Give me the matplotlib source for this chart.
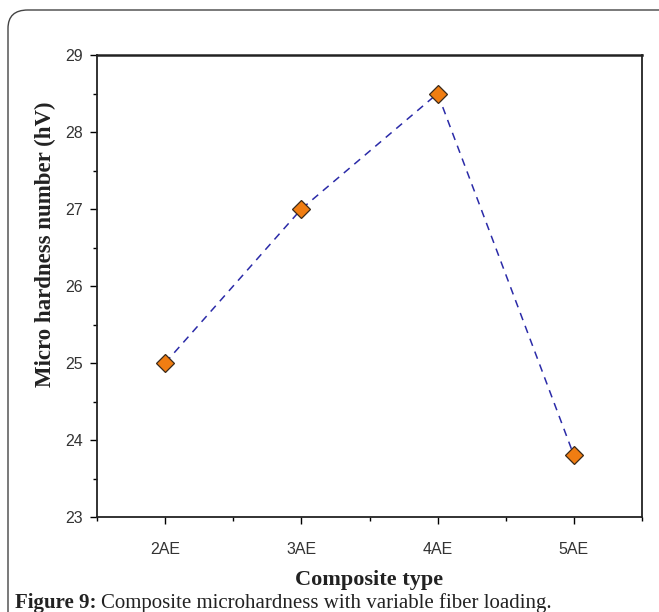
import matplotlib
matplotlib.use("Agg")
import matplotlib.pyplot as plt
from matplotlib.patches import FancyBboxPatch
from matplotlib.ticker import MultipleLocator, FixedLocator

categories = ["2AE", "3AE", "4AE", "5AE"]
hardness = [25.0, 27.0, 28.5, 23.8]
y_ticks = [23, 24, 25, 26, 27, 28, 29]

fig = plt.figure(figsize=(6.59, 6.12), dpi=100)

# rounded frame around the figure
box = FancyBboxPatch((8 / 659, -0.05), 1.2, 1.05 - 10 / 612,
                     boxstyle="round,pad=0,rounding_size=0.03",
                     transform=fig.transFigure, fill=False,
                     edgecolor="#444444", linewidth=1.0)
fig.patches.append(box)

ax = fig.add_axes([97 / 659, 1 - 517 / 612, (642 - 97) / 659, (517 - 55) / 612])
x = list(range(len(categories)))
ax.plot(x, hardness, linestyle=(0, (5, 4)), color="#2B2BA8", linewidth=1.1,
        marker="D", markersize=9, markerfacecolor="#F07D12",
        markeredgecolor="#3a2a1a", markeredgewidth=0.9, zorder=3)

ax.set_xlim(-0.5, 3.5)
ax.set_ylim(23, 29)
ax.set_xticks(x)
ax.set_xticklabels(categories)
ax.set_yticks(y_ticks)
ax.xaxis.set_minor_locator(FixedLocator([-0.5, 0.5, 1.5, 2.5, 3.5]))
ax.yaxis.set_minor_locator(MultipleLocator(0.5))
ax.tick_params(which="both", direction="out", top=False, right=False)
ax.tick_params(which="major", length=5, width=1.0, labelsize=11.5,
               labelcolor="#333333")
ax.tick_params(axis="x", which="major", pad=13)
ax.tick_params(axis="y", which="major", pad=5)
ax.tick_params(which="minor", length=3, width=1.0)
for lab in ax.get_xticklabels() + ax.get_yticklabels():
    lab.set_family("Liberation Sans")
for s in ax.spines.values():
    s.set_linewidth(1.3)
    s.set_color("#222222")
ax.spines["top"].set_linewidth(1.8)

ax.set_xlabel("Composite type", family="Liberation Serif", fontweight="bold",
              fontsize=16, color="#222222", labelpad=9)
ax.set_ylabel("Micro hardness number (hV)", family="Liberation Serif",
              fontweight="bold", fontsize=16.5, color="#222222", labelpad=4)
ax.yaxis.set_label_coords(-0.075, 0.59)

fig.text(15 / 659, 1 - 603 / 612, "Figure 9:", family="Liberation Serif",
         fontweight="bold", fontsize=15, color="#222222", va="center")
fig.text(101 / 659, 1 - 603 / 612, "Composite microhardness with variable fiber loading.",
         family="Liberation Serif", fontsize=15, color="#222222", va="center")

fig.savefig("out.png", dpi=100)
